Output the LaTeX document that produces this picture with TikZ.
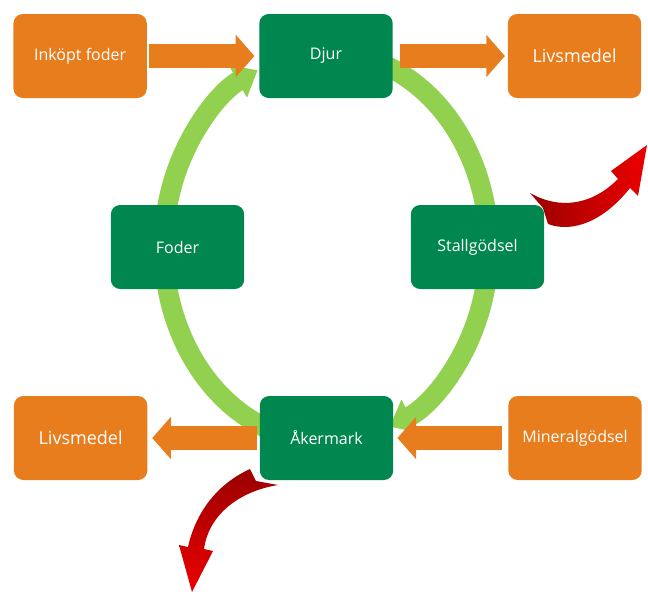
\documentclass[tikz,border=0pt]{standalone}
\usepackage{fontspec}
\setmainfont{Open Sans}
\usetikzlibrary{arrows.meta,positioning,calc,backgrounds}
\definecolor{carrot}{HTML}{E87D1E}
\definecolor{forest}{HTML}{00864F}
\definecolor{grass}{HTML}{92D050}
\definecolor{wine}{HTML}{9A0000}
\definecolor{blood}{HTML}{EC0000}
\tikzset{
  box/.style={rounded corners=7pt,minimum width=100pt,minimum height=63pt,
              align=center,text=white,font=\fontsize{12}{14}\selectfont},
  farm/.style={box,fill=forest},
  trade/.style={box,fill=carrot},
  big/.style={font=\fontsize{13.5}{16}\selectfont},
  feed/.style={-{Triangle[length=14pt,width=31pt]},line width=18pt,draw=carrot},
  ring/.style={-{Triangle[length=17pt,width=27pt]},line width=15pt,draw=grass},
}

\begin{document}
\begin{tikzpicture}[x=0.75pt,y=-0.75pt]
    \useasboundingbox (0,0) rectangle (648,593);
    \node[farm] (djur) at (326,56) {Djur};
    \node[farm] (foder) at (177.5,247) {Foder};
    \node[farm] (stall) at (477.5,247) {Stallgödsel};
    \node[farm] (aker) at (326.5,438) {Åkermark};
    \node[trade,left=84pt of djur] (inkop) {Inköpt foder};
    \node[trade,big,right=86pt of djur] (livsup) {Livsmedel};
    \node[trade,big,left=84pt of aker] (livsdown) {Livsmedel};
    \node[trade,right=86pt of aker] (mineral) {Mineralgödsel};
    \coordinate (hub) at ($(djur)!0.5!(aker)$);
    \begin{pgfonlayer}{background}
    \draw[ring] ($(hub)+(112:162.5 and 195)$)
      arc[start angle=112,end angle=245,x radius=162.5,y radius=195];
    \draw[ring] ($(hub)+(-70:162.5 and 195)$)
      arc[start angle=-70,end angle=67,x radius=162.5,y radius=195];
    \shade[left color=wine,right color=blood] (530,193)
      .. controls (560,210) and (592,205) .. (618,179) -- (611,171) -- (647,145)
      -- (638,196) -- (630,188) .. controls (603,222) and (572,233) .. (548,224)
      -- (543,208) -- cycle;
    \shade[top color=wine,bottom color=blood] (250,469)
      .. controls (215,485) and (195,515) .. (188,547) -- (179,545) -- (192,592)
      -- (213,551) -- (204,549) .. controls (208,518) and (235,492) .. (278,485)
      -- (256,481) -- cycle;
    \draw[feed,shorten <=1.5pt,shorten >=3.5pt] (inkop) -- (djur);
    \draw[feed,shorten <=5pt,shorten >=2pt] (djur) -- (livsup);
    \draw[feed,shorten <=2pt,shorten >=3.5pt] (aker) -- (livsdown);
    \draw[feed,shorten <=4.5pt,shorten >=3pt] (mineral) -- (aker);
    \end{pgfonlayer}
  \end{tikzpicture}
\end{document}
